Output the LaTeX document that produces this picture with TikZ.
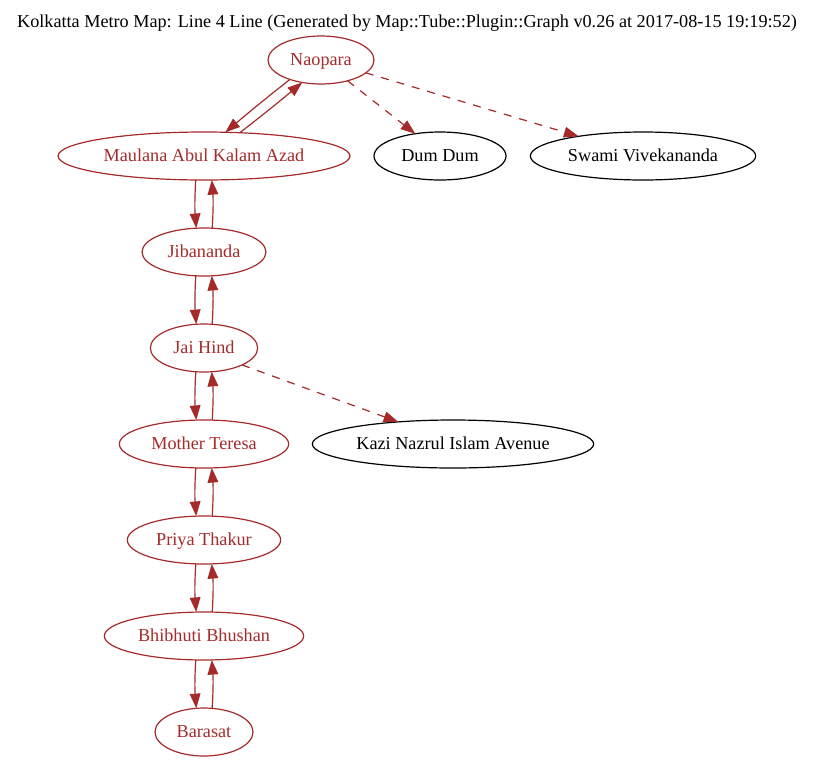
\documentclass[tikz,border=0pt]{standalone}
\usepackage{fontspec}
\setmainfont{Liberation Serif}
\usetikzlibrary{arrows.meta,shapes.geometric}
\definecolor{brn}{HTML}{A52A2A}
\tikzset{
  lbl/.style={font=\fontsize{13.65}{16}\selectfont,text height=10pt,text depth=2.5pt},
  stn/.style={ellipse,lbl,draw=black,text=black,line width=0.9pt,inner sep=0pt,outer sep=0pt,minimum height=36pt},
  line4/.style={stn,draw=brn,text=brn},
  edgeb/.style={draw=brn,line width=0.9pt,-{Triangle[length=11pt,width=8pt,fill=brn]}},
  link/.style={edgeb,bend right=4},
  dashlink/.style={edgeb,dash pattern=on 6pt off 6pt}
}
\begin{document}
\begin{tikzpicture}[x=0.75pt,y=-0.75pt]
\useasboundingbox (0,0) rectangle (813,761);
\node[lbl,inner sep=0pt] (title) at (407,22) {Kolkatta Metro Map: Line 4 Line (Generated by Map::Tube::Plugin::Graph v0.26 at 2017-08-15 19:19:52)};
\node[line4,minimum width=79.5pt] (nao) at (321,60) {Naopara};
\node[line4,minimum width=219pt] (mau) at (204,156) {Maulana Abul Kalam Azad};
\node[stn,minimum width=99pt] (dum) at (440,156) {Dum Dum};
\node[stn,minimum width=169pt] (swa) at (643,156) {Swami Vivekananda};
\node[line4,minimum width=93pt] (jib) at (204,252) {Jibananda};
\node[line4,minimum width=80.5pt] (jai) at (204,348) {Jai Hind};
\node[line4,minimum width=127pt] (mot) at (204,444) {Mother Teresa};
\node[stn,minimum width=211pt] (kaz) at (453,444) {Kazi Nazrul Islam Avenue};
\node[line4,minimum width=115pt] (pri) at (204,540) {Priya Thakur};
\node[line4,minimum width=149.5pt] (bhi) at (204,636) {Bhibhuti Bhushan};
\node[line4,minimum width=73.5pt] (bar) at (204,732) {Barasat};
% Naopara <-> Maulana
\draw[edgeb,bend right=1] (nao.212.8) to (mau.48.8);
\draw[edgeb,bend right=1] (mau.33) to (nao.230.7);
% dashed
\draw[dashlink] (nao.-38.9) to (dum.138.7);
\draw[dashlink] (nao.-16.5) to (swa.163.2);
\draw[dashlink] (jai.-24) to (kaz.158.6);
% vertical pairs
\foreach \a/\b in {mau/jib,jib/jai,jai/mot,mot/pri,pri/bhi,bhi/bar}{
  \draw[link] (\a.251.6) to (\b.108.4);
  \draw[link] (\b.71.6) to (\a.288.4);
}
\end{tikzpicture}
\end{document}
